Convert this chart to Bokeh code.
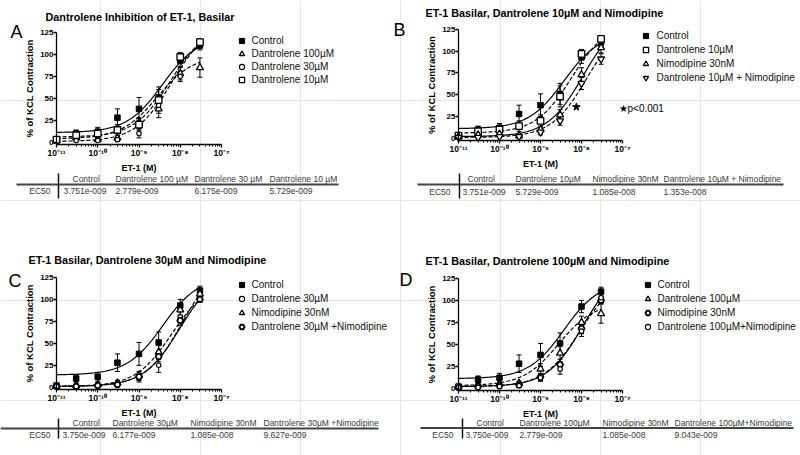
import numpy as np
from bokeh.plotting import figure
from bokeh.models import (Range1d, FixedTicker, Legend, LegendItem, Label,
                          Whisker, TeeHead, ColumnDataSource, LogScale,
                          LogAxis, LinearAxis)
from bokeh.core.properties import value
from bokeh.embed import file_html
from bokeh.resources import INLINE

FONT = "Liberation Sans"
PW, PH = 800, 455

# ---------------- data ----------------
conc = [1e-11, 3e-11, 1e-10, 3e-10, 1e-9, 3e-9, 1e-8, 3e-8]
x_ticks = [1e-11, 1e-10, 1e-9, 1e-8, 1e-7]
x_tick_labels = ["10⁻¹¹", "10⁻¹⁰", "10⁻⁹", "10⁻⁸", "10⁻⁷"]
y_ticks = [0, 25, 50, 75, 100, 125]

control = [2, 10, 12, 28, 38, 51, 93, 110]
control_err = [2, 4, 5, 10, 13, 12, 7, 5]

a_d100 = [2, 5, 3, 5, 22, 38, 78, 85]
a_d100_err = [1, 2, 2, 2, 6, 10, 7, 11]
a_d30 = [1, 2, 2, 3, 10, 42, 75, 112]
a_d30_err = [1, 1, 1, 2, 5, 9, 6, 4]
a_d10 = [3, 8, 10, 14, 20, 48, 97, 114]
a_d10_err = [1, 3, 5, 6, 7, 12, 5, 4]

b_d10 = [3, 8, 10, 14, 20, 48, 97, 114]
b_d10_err = [1, 3, 5, 6, 7, 12, 5, 4]
b_nim = [2, 4, 5, 3, 10, 27, 73, 104]
b_nim_err = [1, 2, 2, 2, 4, 6, 8, 6]
b_d10nim = [1, 1, 2, 2, 7, 20, 63, 91]
b_d10nim_err = [1, 1, 1, 1, 3, 5, 7, 6]
star_x = [7.5e-9]
star_y = [36]

c_d30 = [1, 2, 2, 3, 10, 25, 80, 101]
c_d30_err = [1, 1, 1, 2, 4, 8, 6, 4]
c_nim = [1, 2, 3, 5, 14, 40, 88, 106]
c_nim_err = [1, 1, 2, 3, 4, 8, 6, 4]
c_d30nim = [1, 1, 2, 3, 12, 35, 76, 100]
c_d30nim_err = [1, 1, 1, 2, 4, 6, 6, 3]

d_d100 = [2, 4, 5, 6, 22, 40, 75, 85]
d_d100_err = [1, 2, 2, 2, 6, 10, 7, 11]
d_nim = [1, 2, 3, 4, 13, 27, 68, 100]
d_nim_err = [1, 1, 2, 2, 4, 6, 6, 4]
d_d100nim = [1, 1, 2, 3, 12, 22, 65, 103]
d_d100nim_err = [1, 1, 1, 2, 4, 6, 6, 5]

# curve fit parameters (bottom, top); EC50 from the tables
a_bottoms = [11, 4, 1, 6]
a_tops = [121, 99, 135, 133]
b_bottoms = [11, 6, 2, 1]
b_tops = [121, 133, 141, 137]
c_bottoms = [14, 1, 1, 1]
c_tops = [126, 120, 144, 132]
d_bottoms = [11, 3, 2, 2]
d_tops = [122, 98, 140, 127]

tableA_headers = ["Control", "Dantrolene 100 µM", "Dantrolene 30 µM", "Dantrolene 10 µM"]
tableA_values = ["3.751e-009", "2.779e-009", "6.175e-009", "5.729e-009"]
tableB_headers = ["Control", "Dantrolene 10µM", "Nimodipine 30nM", "Dantrolene 10µM + Nimodipine"]
tableB_values = ["3.751e-009", "5.729e-009", "1.085e-008", "1.353e-008"]
tableC_headers = ["Control", "Dantrolene 30µM", "Nimodipine 30nM", "Dantrolene 30µM +Nimodipine"]
tableC_values = ["3.750e-009", "6.177e-009", "1.085e-008", "9.627e-009"]
tableD_headers = ["Control", "Dantrolene 100µM", "Nimodipine 30nM", "Dantrolene 100µM+Nimodipine"]
tableD_values = ["3.750e-009", "2.779e-009", "1.085e-008", "9.043e-009"]

Y0, Y1 = -2.5, 126
minor = [k * 10.0 ** e for e in range(-11, -7) for k in range(2, 10)]

# one page-sized figure; page coordinates in pixels (y downwards)
p = figure(width=PW, height=PH, x_range=Range1d(0, PW), y_range=Range1d(PH, 0),
           x_axis_location=None, y_axis_location=None, min_border=0,
           title=None, output_backend="svg", toolbar_location=None)
p.outline_line_color = None
p.background_fill_color = "white"
p.border_fill_color = "white"


def panel(name, geom, series, letter, letter_pos, title, title_pos,
          leg_first, leg_pitch, leg_glyph_x, leg_text_x):
    fl, ft, fw, fh = geom
    fb = ft + fh
    lo = -11 - 4 * fl / fw
    hi = -11 + 4 * (PW - fl) / fw
    vpp = (Y1 - Y0) / fh
    xn, yn = "x" + name, "y" + name
    p.extra_x_ranges[xn] = Range1d(10 ** lo, 10 ** hi)
    p.extra_x_scales[xn] = LogScale()
    p.extra_y_ranges[yn] = Range1d(Y0 - (PH - fb) * vpp, Y1 + ft * vpp)
    rn = dict(x_range_name=xn, y_range_name=yn)

    xa = LogAxis(ticker=FixedTicker(ticks=x_ticks, minor_ticks=minor),
                 major_label_overrides=dict(zip(x_ticks, x_tick_labels)),
                 axis_label="ET-1 (M)", fixed_location=Y0,
                 bounds=(1e-11, 1e-7), **rn)
    ya = LinearAxis(ticker=FixedTicker(ticks=y_ticks),
                    axis_label="% of KCL Contraction", fixed_location=1e-11,
                    bounds=(Y0, 125), **rn)
    for ax in (xa, ya):
        ax.axis_line_width = 1.3
        ax.major_tick_line_width = 1.3
        ax.minor_tick_line_width = 1
        ax.major_tick_in = 0
        ax.major_tick_out = 3
        ax.minor_tick_in = 0
        ax.minor_tick_out = 2
        ax.major_label_standoff = 0
        ax.major_label_text_font = FONT
        ax.major_label_text_font_style = "bold"
        ax.major_label_text_color = "black"
        ax.axis_label_text_font = FONT
        ax.axis_label_text_font_style = "bold"
        ax.axis_label_text_color = "black"
        ax.axis_label_standoff = 2
    xa.major_label_text_font_size = "8.5px"
    ya.major_label_text_font_size = "8px"
    xa.axis_label_text_font_size = "9px"
    ya.axis_label_text_font_size = "9.5px"
    ya.minor_tick_line_color = None
    p.add_layout(xa, "below")
    p.add_layout(ya, "left")

    xs = np.logspace(-11, np.log10(conc[-1]), 150)
    for s in series:
        b, t, ec = s["bottom"], s["top"], s["ec50"]
        yc = b + (t - b) / (1 + ec / xs)
        p.line(xs, yc, line_color="black", line_width=1.2,
               line_dash=s["dash"], **rn)
    for s in series:
        src = ColumnDataSource(dict(x=conc,
                                    lo=[v - e for v, e in zip(s["y"], s["err"])],
                                    hi=[v + e for v, e in zip(s["y"], s["err"])]))
        w = Whisker(source=src, base="x", upper="hi", lower="lo",
                    line_color="black", line_width=1,
                    upper_head=TeeHead(size=5, line_color="black", line_width=1),
                    lower_head=TeeHead(size=5, line_color="black", line_width=1),
                    **rn)
        p.add_layout(w)
    items = []
    for s in series:
        r = p.scatter(conc, s["y"], marker=s["marker"], size=s["size"],
                      fill_color=s["fill"], line_color="black",
                      line_width=s["lw"], **rn)
        items.append(LegendItem(label=s["label"], renderers=[r]))

    gh = 13
    spacing = int(leg_pitch - gh)
    leg_h = 4 * gh + 3 * spacing
    leg_top = leg_first - gh / 2
    vy = PH - (leg_top + leg_h)
    vx = leg_glyph_x - gh / 2
    legend = Legend(items=items, location=(vx, vy), padding=0, margin=0,
                    spacing=spacing, glyph_height=gh, glyph_width=gh,
                    label_height=gh,
                    label_standoff=int(leg_text_x - (leg_glyph_x + gh / 2)),
                    label_text_font=FONT, label_text_font_size="10px",
                    label_text_color="#111", border_line_color=None,
                    background_fill_alpha=0)
    p.add_layout(legend)

    p.add_layout(Label(x=letter_pos[0], y=letter_pos[1], text=letter,
                       text_font=FONT, text_font_size="18px",
                       text_baseline="middle", text_align="left",
                       text_color="black"))
    p.add_layout(Label(x=title_pos[0], y=title_pos[1], text=title,
                       text_font=FONT, text_font_size="10.8px",
                       text_font_style="bold", text_baseline="middle",
                       text_align="left", text_color="black"))
    return rn


def table(headers, values, hx, vxs, hy, dy, ly, lx0, lx1, vlx, vly0, vly1, ec_r):
    p.segment(x0=[lx0], y0=[ly], x1=[lx1], y1=[ly], line_color="#444", line_width=2)
    p.segment(x0=[vlx], y0=[vly0], x1=[vlx], y1=[vly1], line_color="#111", line_width=1.5)
    common = dict(text_font=value(FONT), text_font_size="8.5px", text_color="#3a3a3a",
                  text_baseline="middle")
    p.text(x=hx, y=[hy] * len(headers), text=headers, text_align="left", **common)
    p.text(x=vxs, y=[dy] * len(values), text=values, text_align="left", **common)
    p.text(x=[ec_r], y=[dy], text=["EC50"], text_align="right", **common)


def ser(label, y, err, marker, fill, size, lw, dash, bottom, top, ec50):
    return dict(label=label, y=y, err=err, marker=marker, fill=fill, size=size,
                lw=lw, dash=dash, bottom=bottom, top=top, ec50=float(ec50))


SOLID, DASH = "solid", "4 2"

seriesA = [
    ser("Control", control, control_err, "square", "black", 5.5, 1, SOLID, a_bottoms[0], a_tops[0], tableA_values[0]),
    ser("Dantrolene 100µM", a_d100, a_d100_err, "triangle", "white", 7, 1.3, DASH, a_bottoms[1], a_tops[1], tableA_values[1]),
    ser("Dantrolene 30µM", a_d30, a_d30_err, "circle", "white", 4.5, 1.1, DASH, a_bottoms[2], a_tops[2], tableA_values[2]),
    ser("Dantrolene 10µM", a_d10, a_d10_err, "square", "white", 6.5, 1.3, DASH, a_bottoms[3], a_tops[3], tableA_values[3]),
]
seriesB = [
    ser("Control", control, control_err, "square", "black", 5.5, 1, SOLID, b_bottoms[0], b_tops[0], tableB_values[0]),
    ser("Dantrolene 10µM", b_d10, b_d10_err, "square", "white", 6.5, 1.3, DASH, b_bottoms[1], b_tops[1], tableB_values[1]),
    ser("Nimodipine 30nM", b_nim, b_nim_err, "triangle", "white", 7, 1.3, SOLID, b_bottoms[2], b_tops[2], tableB_values[2]),
    ser("Dantrolene 10µM + Nimodipine", b_d10nim, b_d10nim_err, "inverted_triangle", "white", 7, 1.3, DASH, b_bottoms[3], b_tops[3], tableB_values[3]),
]
seriesC = [
    ser("Control", control, control_err, "square", "black", 5.5, 1, SOLID, c_bottoms[0], c_tops[0], tableC_values[0]),
    ser("Dantrolene 30µM", c_d30, c_d30_err, "circle", "white", 4.5, 1.1, DASH, c_bottoms[1], c_tops[1], tableC_values[1]),
    ser("Nimodipine 30nM", c_nim, c_nim_err, "triangle", "white", 7, 1.3, DASH, c_bottoms[2], c_tops[2], tableC_values[2]),
    ser("Dantrolene 30µM +Nimodipine", c_d30nim, c_d30nim_err, "hex", "white", 6, 1.8, SOLID, c_bottoms[3], c_tops[3], tableC_values[3]),
]
seriesD = [
    ser("Control", control, control_err, "square", "black", 5.5, 1, SOLID, d_bottoms[0], d_tops[0], tableD_values[0]),
    ser("Dantrolene 100µM", d_d100, d_d100_err, "triangle", "white", 7, 1.3, DASH, d_bottoms[1], d_tops[1], tableD_values[1]),
    ser("Nimodipine 30nM", d_nim, d_nim_err, "hex", "white", 6, 1.8, SOLID, d_bottoms[2], d_tops[2], tableD_values[2]),
    ser("Dantrolene 100µM+Nimodipine", d_d100nim, d_d100nim_err, "circle", "white", 4.5, 1.1, DASH, d_bottoms[3], d_tops[3], tableD_values[3]),
]

geomA = (56, 31, 165, 113)
geomB = (458, 28, 164, 112)
geomC = (56, 276, 165, 113)
geomD = (458, 277, 164, 113)

panel("A", geomA, seriesA, "A", (10, 31),
      "Dantrolene Inhibition of ET-1, Basilar", (45, 16), 40, 13, 241, 252)
rnB = panel("B", geomB, seriesB, "B", (393, 29),
            "ET-1 Basilar, Dantrolene 10µM and Nimodipine", (425, 12), 35.5, 14, 645, 657)
p.scatter(star_x, star_y, marker="star", size=8, fill_color="black",
          line_color="black", **rnB)
p.add_layout(Label(x=618, y=108, text="★p<0.001", text_font=FONT, text_font_size="10px",
                   text_baseline="middle", text_align="left", text_color="black"))
panel("C", geomC, seriesC, "C", (8, 280),
      "ET-1 Basilar, Dantrolene 30µM and Nimodipine", (28, 259), 284, 14, 241, 252)
panel("D", geomD, seriesD, "D", (399, 279),
      "ET-1 Basilar, Dantrolene 100µM and Nimodipine", (425, 260.5), 284, 14, 647, 658)

table(tableA_headers, tableA_values, [72, 115, 194, 269], [63, 115, 194, 269],
      178, 190.5, 184, 16, 338, 58, 173, 198, 50)
table(tableB_headers, tableB_values, [467, 515, 592, 663], [462, 515, 592, 663],
      178, 191, 184, 417, 783, 459, 173, 198, 450)
table(tableC_headers, tableC_values, [72, 112, 190, 263], [62, 112, 190, 263],
      422, 434, 428, 0, 378, 58, 418, 438, 50)
table(tableD_headers, tableD_values, [476, 519, 602, 674], [465, 519, 602, 674],
      422, 434, 427.5, 420, 793, 462, 418, 438, 453)

open("out.html", "w").write(file_html(p, INLINE))
